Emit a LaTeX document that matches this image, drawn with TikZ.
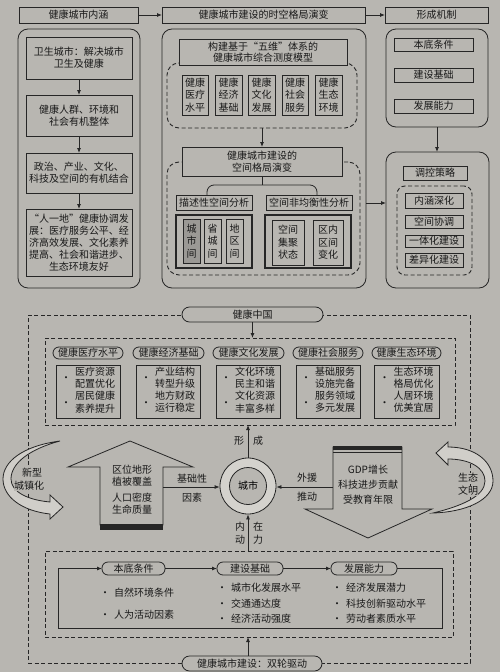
\documentclass[tikz,border=0pt]{standalone}
\usepackage{fontspec}
\setmainfont{Noto Sans CJK SC}
\usetikzlibrary{arrows.meta,calc}
\definecolor{bgc}{HTML}{B8B6B1}
\definecolor{lnc}{HTML}{262626}
\definecolor{darkf}{HTML}{9B9995}
\definecolor{ringf}{HTML}{D4D2CD}
\definecolor{crf}{HTML}{D0CEC9}
\newcommand\fz{\fontsize{10}{12}\selectfont}
\newcommand\bx[7][]{\node[bxs,minimum width={#5-#3},minimum height={#6-#4},#1] (#2) at ({(#3+#5)/2},{(#4+#6)/2}) {#7};}
\newcommand\twoit[4]{\begin{tabular}{@{}c@{\hspace{4pt}}c@{}}•&\begin{tabular}{@{}c@{}}#1\\#2\end{tabular}\\[1pt]•&\begin{tabular}{@{}c@{}}#3\\#4\end{tabular}\end{tabular}}
\tikzset{
  bxs/.style={draw=lnc, line width=0.8pt, fill=bgc, inner sep=1pt, outer sep=0pt, align=center, font=\fz, text=black!90},
  rbx/.style={rounded corners=10pt},
  dbx/.style={fill=none, line width=0.9pt, dash pattern=on 4pt off 2.5pt, rounded corners=12pt},
  dsq/.style={fill=none, line width=0.9pt, dash pattern=on 4pt off 2.5pt},
  pill/.style={rounded corners=6pt},
  vt/.style={font=\fontsize{10}{12.5}\selectfont},
  thk/.style={line width=1.2pt},
  ln/.style={draw=lnc, line width=0.8pt},
  arr/.style={draw=lnc, line width=0.8pt, -{Latex[length=5pt,width=4pt]}},
  lbl/.style={font=\fz, inner sep=0pt, align=center, text=black!90},
  crs/.style={draw=lnc, line width=0.8pt, fill=crf}
}
\begin{document}
\begin{tikzpicture}[x=1pt,y=-1pt]
\fill[bgc] (0,0) rectangle (500,672);
\useasboundingbox (0,0) rectangle (500,672);

% ---------- headers ----------
\bx{h1}{19}{7}{138}{23}{健康城市内涵}
\bx{h2}{162}{7}{365}{23}{健康城市建设的时空格局演变}
\bx{h3}{385}{7}{488}{23}{形成机制}
\draw[arr] (h1) -- (h2);
\draw[arr] (h2) -- (h3);

% ---------- left column ----------
\bx[rbx]{lb}{18}{29}{140}{288}{}
\bx{L1}{26}{37}{132}{79}{卫生城市：解决城市\\卫生及健康}
\bx{L2}{26}{95}{132}{136}{健康人群、环境和\\社会有机整体}
\bx{L3}{26}{153}{132}{193}{政治、产业、文化、\\科技及空间的有机结合}
\bx{L4}{26}{209}{132}{276}{“人一地”健康协调发\\展：医疗服务公平、经\\济高效发展、文化素养\\提高、社会和谐进步、\\生态环境友好}
\draw[arr] (L1) -- (L2);
\draw[arr] (L2) -- (L3);
\draw[arr] (L3) -- (L4);

% ---------- middle column ----------
\bx[rbx]{mb}{162}{29}{366}{288}{}
\bx[dbx]{d1}{167}{63}{357}{128}{}
\bx[font=\fontsize{10}{11.5}\selectfont]{mm}{179}{39}{347}{65}{构建基于“五维”体系的\\健康城市综合测度模型}
\bx[vt]{f1}{182}{75}{208}{115}{健康\\医疗\\水平}
\bx[vt]{f2}{215}{75}{242}{115}{健康\\经济\\基础}
\bx[vt]{f3}{248}{75}{275}{115}{健康\\文化\\发展}
\bx[vt]{f4}{282}{75}{308}{115}{健康\\社会\\服务}
\bx[vt]{f5}{315}{75}{342}{115}{健康\\生态\\环境}
\bx[dbx]{d2}{167}{162}{360}{275}{}
\bx[font=\fontsize{10}{11.5}\selectfont]{sp}{182}{147}{342}{176}{健康城市建设的\\空间格局演变}
\draw[arr] (d1.south) -- (sp.north);
\bx{desc}{176}{195}{252}{210}{描述性空间分析}
\bx{uneq}{266}{195}{352}{210}{空间非均衡性分析}
\coordinate (j) at (262,185);
\draw[ln] (sp.south) -- (j);
\draw[ln,rounded corners=7pt] ([xshift=-7pt]desc.north) |- (j) -| ([xshift=8pt]uneq.north);
\bx[thk]{df}{176}{215}{252}{268}{}
\bx[thk]{uf}{265}{215}{351}{268}{}
\bx[vt,fill=darkf]{c1}{183}{219}{200}{263}{城\\市\\间}
\bx[vt]{c2}{204}{219}{221}{263}{省\\城\\间}
\bx[vt]{c3}{226}{219}{243}{263}{地\\区\\间}
\bx[vt]{u1}{272}{220}{304}{265}{空间\\集聚\\状态}
\bx[vt]{u2}{313}{220}{343}{265}{区内\\区间\\变化}

% ---------- right column ----------
\bx[rbx]{rb1}{386}{29}{488}{127}{}
\bx{r1}{394}{38}{473}{51}{本底条件}
\bx{r2}{394}{68}{473}{82}{建设基础}
\bx{r3}{394}{99}{473}{113}{发展能力}
\bx[rbx]{rb2}{386}{152}{489}{288}{}
\draw[arr] (rb1.south) -- (rb1.south |- rb2.north);
\bx{ctrl}{403}{166}{467}{180}{调控策略}
\bx[dbx,rounded corners=8pt]{d3}{397}{186}{472}{275}{}
\bx{s1}{405}{193}{463}{208}{内涵深化}
\bx{s2}{405}{215}{463}{228}{空间协调}
\bx{s3}{405}{235}{463}{247}{一体化建设}
\bx{s4}{405}{253}{463}{267}{差异化建设}
\coordinate (y203) at (0,203);
\draw[arr] (mb.east |- y203) -- (rb2.west |- y203);

% ---------- bottom: health China ----------
\bx[dsq]{od}{28}{315}{470}{663}{}
\bx[rounded corners=7.5pt]{hz}{182}{307}{323}{322}{健康中国}
\bx[dsq]{id}{45}{338}{455}{425}{}
\draw[arr] (hz.south) -- (hz.south |- id.north);
\bx[pill]{m1}{53}{347}{123}{359}{健康医疗水平}
\bx[pill]{m2}{133}{347}{204}{359}{健康经济基础}
\bx[pill]{m3}{213}{347}{284}{359}{健康文化发展}
\bx[pill]{m4}{293}{347}{363}{359}{健康社会服务}
\bx[pill]{m5}{372}{347}{441}{359}{健康生态环境}
\bx{k1}{56}{365}{120}{418}{\twoit{医疗资源}{配置优化}{居民健康}{素养提升}}
\bx{k2}{136}{365}{200}{418}{\twoit{产业结构}{转型升级}{地方财政}{运行稳定}}
\bx{k3}{216}{365}{280}{418}{\twoit{文化环境}{民主和谐}{文化资源}{丰富多样}}
\bx{k4}{296}{365}{360}{418}{\twoit{基础服务}{设施完备}{服务领域}{多元发展}}
\bx{k5}{374}{365}{439}{418}{\twoit{生态环境}{格局优化}{人居环境}{优美宜居}}

% city circle
\node[circle,draw=lnc,line width=0.8pt,fill=ringf,minimum size=56pt,inner sep=0pt] (city) at (248,486) {};
\node[circle,draw=lnc,line width=0.8pt,fill=bgc,minimum size=37pt,inner sep=0pt,font=\fz] (cityin) at (city) {城市};

% up arrow (basic factors)
\draw[ln] (130,441) -- (193,467) -- (163,467) -- (163,525) -- (100,525) -- (100,467) -- (68,467) -- cycle;
\fill[lnc] (100,524) rectangle (163,530);
\node[lbl] (ua1) at (132,475.5) {区位地形\\植被覆盖};
\node[lbl] (ua2) at (132,504) {人口密度\\生命质量};
\coordinate (uar) at (163,487);
\draw[arr] (uar) -- (uar -| city.west);
\node[lbl] (jc1) at (192,479) {基础性};
\node[lbl] (jc2) at (192,498) {因素};

% down arrow (external)
\draw[ln] (333,447) -- (402,447) -- (402,509) -- (432,509) -- (368,538) -- (305,509) -- (333,509) -- cycle;
\fill[lnc] (333,446) rectangle (402,449.5);
\draw[ln] (333,452.5) -- (402,452.5);
\node[lbl,font=\fontsize{10}{15}\selectfont] (da1) at (368,485) {GDP增长\\科技进步贡献\\受教育年限};
\coordinate (dal) at (333,487);
\draw[arr] (dal) -- (dal -| city.east);
\node[lbl] (wy1) at (307,478) {外援};
\node[lbl] (wy2) at (307,497) {推动};

% left crescent
\draw[crs] (60,441) .. controls (22,446) and (3,462) .. (3,479) .. controls (3,497) and (22,511) .. (50,514)
  -- (50,519) -- (63,507) -- (50,495) -- (50,502)
  .. controls (28,500) and (11,492) .. (11,479) .. controls (11,463) and (30,449) .. (60,441) -- cycle;
\node[lbl,fill=bgc] (xc1) at (32,473) {新型};
\node[lbl,fill=bgc] (xc2) at (29,486) {城镇化};

% right crescent
\draw[crs] (436,453) -- (448,442) -- (448,447) .. controls (476,447) and (493,462) .. (493,481)
  .. controls (493,500) and (466,512) .. (433,513)
  .. controls (462,506) and (485,496) .. (485,481) .. controls (485,468) and (470,459) .. (448,459)
  -- (448,465) -- cycle;
\node[lbl,fill=bgc] (st1) at (468,478) {生态};
\node[lbl,fill=bgc] (st2) at (468,491) {文明};

% forming arrow
\draw[arr] (city.north) -- (city.north |- id.south);
\node[lbl] (xc) at (239,441) {形};
\node[lbl] (cc) at (258,441) {成};

% ---------- bottom: double wheel ----------
\bx[dsq]{bd}{45}{551}{453}{637}{}
\draw[arr] (city.south |- bd.north) -- (city.south);
\node[lbl] (n1) at (240,527) {内};
\node[lbl] (n2) at (258,527) {在};
\node[lbl] (n3) at (240,540) {动};
\node[lbl] (n4) at (258,540) {力};
\bx[pill]{p1}{102}{562}{165}{575}{本底条件}
\bx[pill]{p2}{217}{562}{283}{575}{建设基础}
\bx[pill]{p3}{331}{562}{397}{575}{发展能力}
\coordinate (q1) at (442,628);
\coordinate (q2) at (58,628);
\draw[arr] (p1) -- (p2);
\draw[arr] (p2) -- (p3);
\draw[arr] (p3.east) -| (q1) -- (q2) |- (p1.west);
\node[lbl,anchor=west,align=left] (t1) at (100,604) {•\hspace{4pt}自然环境条件\\[10pt]•\hspace{4pt}人为活动因素};
\node[lbl,anchor=west,align=left] (t2) at (217,603.5) {•\hspace{4pt}城市化发展水平\\[3.5pt]•\hspace{4pt}交通通达度\\[3.5pt]•\hspace{4pt}经济活动强度};
\node[lbl,anchor=west,align=left] (t3) at (332,603.5) {•\hspace{4pt}经济发展潜力\\[3.5pt]•\hspace{4pt}科技创新驱动水平\\[3.5pt]•\hspace{4pt}劳动者素质水平};
\bx[rounded corners=7.5pt]{bp}{182}{656}{322}{671}{健康城市建设：双轮驱动}
\draw[arr] (city.south |- bp.north) -- (city.south |- bd.south);
\end{tikzpicture}
\end{document}
